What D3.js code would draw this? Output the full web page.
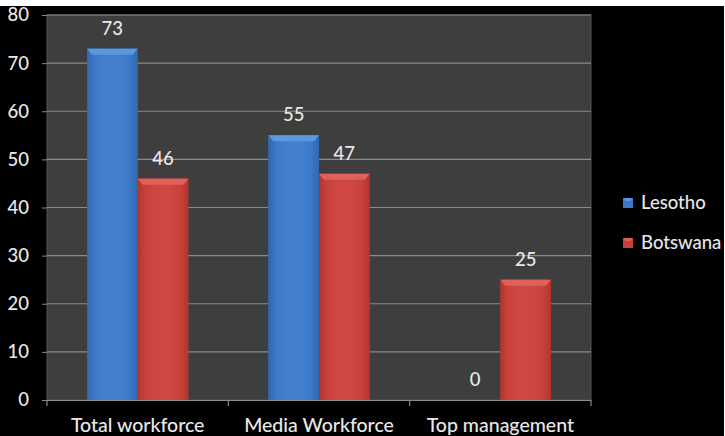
<!DOCTYPE html>
<html>
<head>
<meta charset="utf-8">
<script src="https://cdn.jsdelivr.net/npm/d3@7"></script>
<style>
  html, body { margin: 0; padding: 0; background: #fff; }
  svg { display: block; }
  text { font-family: Lato, "Open Sans", sans-serif; fill: #e8e8e8; }
</style>
</head>
<body>
<svg id="chart" width="725" height="436"></svg>
<script>
// Workforce share by level, two countries
const categories = ["Total workforce", "Media Workforce", "Top management"];
const seriesNames = ["Lesotho", "Botswana"];
const lesotho = [73, 55, 0];
const botswana = [46, 47, 25];
const yTicks = [0, 10, 20, 30, 40, 50, 60, 70, 80];

const seriesValues = [lesotho, botswana];
const colors = ["#3b78c6", "#c9403a"];
const colorsLight = ["#5b98e2", "#e0605a"];
const colorsDark = ["#2b5c9e", "#a02e28"];

const W = 725, H = 436;
const plot = { left: 47, right: 591, top: 15, bottom: 400 };
const FONT = "Lato, 'Open Sans', sans-serif";

const svg = d3.select("#chart");
svg.append("rect").attr("x", 0).attr("y", 0).attr("width", W).attr("height", H).attr("fill", "#fff");
svg.append("rect").attr("x", 0).attr("y", 6).attr("width", W - 1).attr("height", H - 6).attr("fill", "#000");

const defs = svg.append("defs");
seriesNames.forEach((s, i) => {
  const g = defs.append("linearGradient").attr("id", "grad" + i)
    .attr("x1", 0).attr("x2", 1).attr("y1", 0).attr("y2", 0);
  g.append("stop").attr("offset", "0%").attr("stop-color", colorsDark[i]);
  g.append("stop").attr("offset", "15%").attr("stop-color", colors[i]);
  g.append("stop").attr("offset", "50%").attr("stop-color", colorsLight[i]).attr("stop-opacity", 0.35);
  g.append("stop").attr("offset", "85%").attr("stop-color", colors[i]);
  g.append("stop").attr("offset", "100%").attr("stop-color", colorsDark[i]);
});

const x0 = d3.scaleBand().domain(categories).range([plot.left, plot.right]).paddingInner(0).paddingOuter(0);
const x1 = d3.scaleBand().domain(seriesNames).range([0, x0.bandwidth()]).paddingInner(0).paddingOuter(0.79);
const y = d3.scaleLinear().domain([0, 80]).range([plot.bottom, plot.top]);

// plot background
svg.append("rect")
  .attr("x", plot.left).attr("y", plot.top)
  .attr("width", plot.right - plot.left).attr("height", plot.bottom - plot.top)
  .attr("fill", "#3e3e3e").attr("stroke", "#555").attr("stroke-width", 1);

// gridlines
svg.append("g").selectAll("line").data(yTicks.filter(d => d > 0)).join("line")
  .attr("x1", plot.left).attr("x2", plot.right)
  .attr("y1", d => y(d)).attr("y2", d => y(d))
  .attr("stroke", "#8a8a8a").attr("stroke-width", 1.2);

// y axis labels
const yAxis = d3.axisLeft(y).tickValues(yTicks).tickSize(5).tickPadding(13).tickFormat(d3.format("d"));
const yg = svg.append("g").attr("transform", `translate(${plot.left},0)`).call(yAxis);
yg.select(".domain").remove();
yg.selectAll(".tick line").attr("stroke", "#8a8a8a");
yg.selectAll(".tick text").attr("font-size", 18.5).attr("fill", "#e8e8e8")
  .style("font-family", FONT).style("font-weight", 500);

// bars
const groups = svg.append("g").selectAll("g").data(categories).join("g")
  .attr("transform", c => `translate(${x0(c)},0)`);

groups.each(function(c, ci) {
  const g = d3.select(this);
  seriesNames.forEach((s, si) => {
    const v = seriesValues[si][ci];
    const bx = x1(s), bw = x1.bandwidth();
    const by = y(v), bh = y(0) - y(v);
    if (bh > 0) {
      g.append("rect").attr("x", bx).attr("y", by).attr("width", bw).attr("height", bh)
        .attr("fill", colors[si]);
      g.append("rect").attr("x", bx).attr("y", by).attr("width", bw).attr("height", bh)
        .attr("fill", `url(#grad${si})`).attr("opacity", 0.6);
      // bevelled top
      const bev = Math.min(6, bh);
      g.append("path")
        .attr("d", `M${bx},${by} L${bx + bw},${by} L${bx + bw - 5},${by + bev} L${bx + 5},${by + bev} Z`)
        .attr("fill", colorsLight[si]);
    }
    g.append("text")
      .attr("x", bx + bw / 2).attr("y", by - 14)
      .attr("text-anchor", "middle").attr("font-size", 18.5)
      .style("font-weight", 500)
      .text(v);
  });
});

// x axis
const xAxis = d3.axisBottom(x0).tickSize(0).tickPadding(18);
const xg = svg.append("g").attr("transform", `translate(0,${plot.bottom})`).call(xAxis);
xg.select(".domain").attr("stroke", "#8a8a8a").attr("stroke-width", 1.2)
  .attr("d", `M${plot.left - 5},0.5H${plot.right}`);
xg.selectAll(".tick text").attr("font-size", 19.5).attr("fill", "#e8e8e8")
  .style("font-family", FONT).style("font-weight", 500);
// category boundary ticks
const bounds = categories.map(c => x0(c)).concat([plot.right]);
svg.append("g").selectAll("line").data(bounds).join("line")
  .attr("x1", d => d).attr("x2", d => d)
  .attr("y1", plot.bottom).attr("y2", plot.bottom + 6)
  .attr("stroke", "#8a8a8a").attr("stroke-width", 1.2);

// legend
const legend = svg.append("g").attr("transform", "translate(623,198)");
seriesNames.forEach((s, i) => {
  const lg = legend.append("g").attr("transform", `translate(0,${i * 40})`);
  lg.append("rect").attr("width", 10).attr("height", 10).attr("fill", colors[i]);
  lg.append("path").attr("d", "M0,0 L10,0 L7,3 L3,3 Z").attr("fill", colorsLight[i]);
  lg.append("text").attr("x", 18).attr("y", 5).attr("dy", "0.35em")
    .attr("font-size", 18.5).style("font-weight", 500).text(s);
});
</script>
</body>
</html>
